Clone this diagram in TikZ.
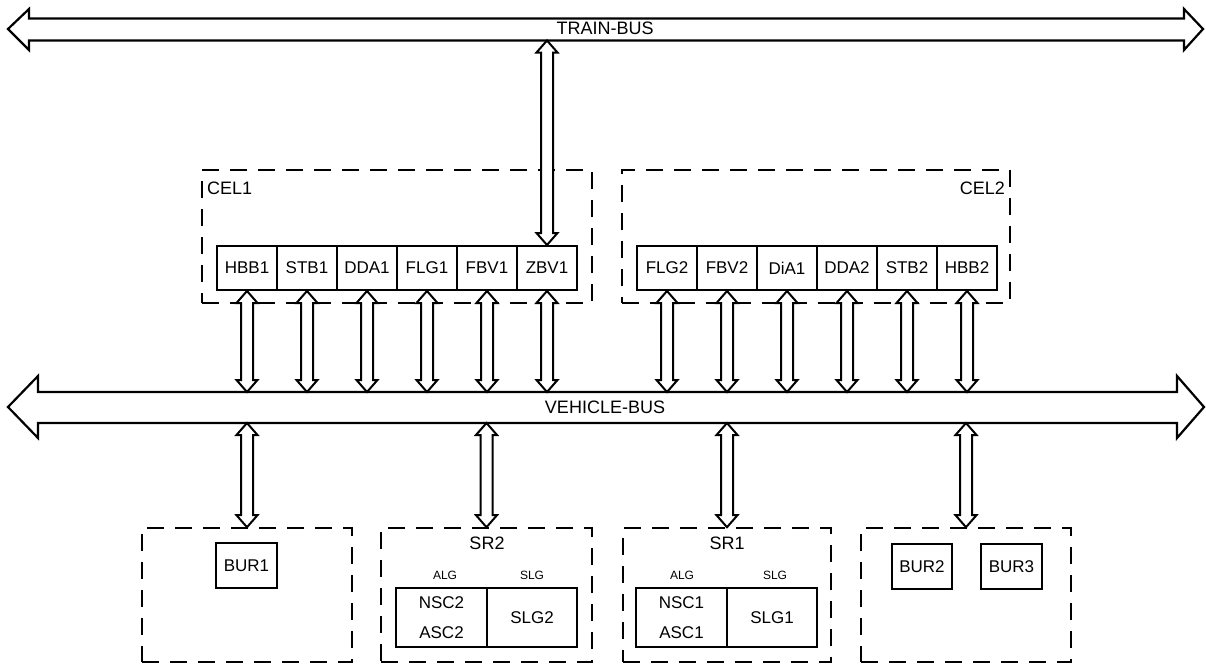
\documentclass[tikz,border=0pt]{standalone}
\usepackage{fontspec}
\setmainfont{Liberation Sans}
\usetikzlibrary{calc}
\tikzset{
  modbox/.style={draw, line width=2pt, minimum width=60pt, minimum height=44pt, inner sep=0pt, font=\fontsize{17}{19}\selectfont},
  grp/.style={draw, dash pattern=on 17pt off 11pt, line width=1.6pt, inner sep=0pt},
  conn/.style={draw, line width=2pt, fill=white, line join=miter},
  bus/.style={draw, line width=2.2pt, fill=white, line join=miter},
  lbl/.style={font=\fontsize{18}{20}\selectfont, inner sep=0pt},
  small/.style={font=\fontsize{12}{14}\selectfont, inner sep=0pt},
  srbox/.style={draw, line width=2pt, minimum height=59pt, inner sep=0pt, align=center, font=\fontsize{17}{30}\selectfont},
}
\newcommand\varr[2]{\path[conn] let \p1=(#1), \p2=(#2) in
  (\x1,\y1) -- (\x1+10.5pt,\y1-12pt) -- (\x1+6pt,\y1-12pt) -- (\x2+6pt,\y2+12pt) -- (\x2+10.5pt,\y2+12pt)
  -- (\x2,\y2) -- (\x2-10.5pt,\y2+12pt) -- (\x2-6pt,\y2+12pt) -- (\x1-6pt,\y1-12pt) -- (\x1-10.5pt,\y1-12pt) -- cycle;}
\begin{document}
\begin{tikzpicture}[x=1pt,y=-1pt]
\useasboundingbox (0,0) rectangle (1206,664);

% buses
\path[bus] (8,29) -- (29,9) -- (29,18.5) -- (1184,18.5) -- (1184,9) -- (1203,29) -- (1184,50) -- (1184,40.5) -- (29,40.5) -- (29,50) -- cycle;
\node[lbl] (tb) at (605,28) {TRAIN-BUS};
\path[bus] (8,407) -- (38,376) -- (38,392) -- (1177,392) -- (1177,376) -- (1204,407) -- (1177,438) -- (1177,423) -- (38,423) -- (38,438) -- cycle;
\node[lbl] (vb) at (605,407) {VEHICLE-BUS};
\coordinate (tbb) at (0,40.5);
\coordinate (vbt) at (0,392);
\coordinate (vbb) at (0,423);

% groups
\node[grp, minimum width=390pt, minimum height=133pt] (cel1) at (397,236.5) {};
\node[grp, minimum width=388pt, minimum height=133pt] (cel2) at (816,236.5) {};
\node[lbl, anchor=west] (cel1l) at (207,188) {CEL1};
\node[lbl, anchor=east] (cel2l) at (1005,188) {CEL2};

\node[grp, minimum width=210pt, minimum height=134pt] (grpa) at (247,595) {};
\node[grp, minimum width=211pt, minimum height=134pt] (grpsr2) at (486.5,595) {};
\node[grp, minimum width=208pt, minimum height=134pt] (grpsr1) at (727,595) {};
\node[grp, minimum width=210pt, minimum height=134pt] (grpb) at (966,595) {};

% CEL1 modules
\node[modbox] (hbb1) at (247,268) {HBB1};
\node[modbox] (stb1) at (307,268) {STB1};
\node[modbox] (dda1) at (367,268) {DDA1};
\node[modbox] (flg1) at (427,268) {FLG1};
\node[modbox] (fbv1) at (487,268) {FBV1};
\node[modbox] (zbv1) at (547,268) {ZBV1};
% CEL2 modules
\node[modbox] (flg2) at (667,268) {FLG2};
\node[modbox] (fbv2) at (727,268) {FBV2};
\node[modbox] (dia1) at (787,268) {DiA1};
\node[modbox] (dda2) at (847,268) {DDA2};
\node[modbox] (stb2) at (907,268) {STB2};
\node[modbox] (hbb2) at (967,268) {HBB2};

% lower contents
\node[modbox, minimum width=61pt, minimum height=45pt] (bur1) at (246.5,565.5) {BUR1};
\node[modbox, minimum width=60pt, minimum height=45pt] (bur2) at (922,566.5) {BUR2};
\node[modbox, minimum width=61pt, minimum height=45pt] (bur3) at (1011.5,566.5) {BUR3};

\node[lbl] (sr2l) at (487,543) {SR2};
\node[srbox, minimum width=91pt] (nsc2) at (441.5,617.5) {NSC2\\ASC2};
\node[srbox, minimum width=90pt] (slg2) at (532,617.5) {SLG2};
\node[small] (alg2) at (445,575) {ALG};
\node[small] (slgl2) at (532,575) {SLG};

\node[lbl] (sr1l) at (727,543) {SR1};
\node[srbox, minimum width=91pt] (nsc1) at (681.5,617.5) {NSC1\\ASC1};
\node[srbox, minimum width=90pt] (slg1) at (772,617.5) {SLG1};
\node[small] (alg1) at (682,575) {ALG};
\node[small] (slgl1) at (775,575) {SLG};

% connectors
\varr{zbv1.north |- tbb}{zbv1.north}
\foreach \m in {hbb1,stb1,dda1,flg1,fbv1,zbv1,flg2,fbv2,dia1,dda2,stb2,hbb2}{
  \varr{\m.south}{\m.south |- vbt}
}
\foreach \g in {grpa,grpsr2,grpsr1,grpb}{
  \varr{\g.north |- vbb}{\g.north}
}
\end{tikzpicture}
\end{document}
